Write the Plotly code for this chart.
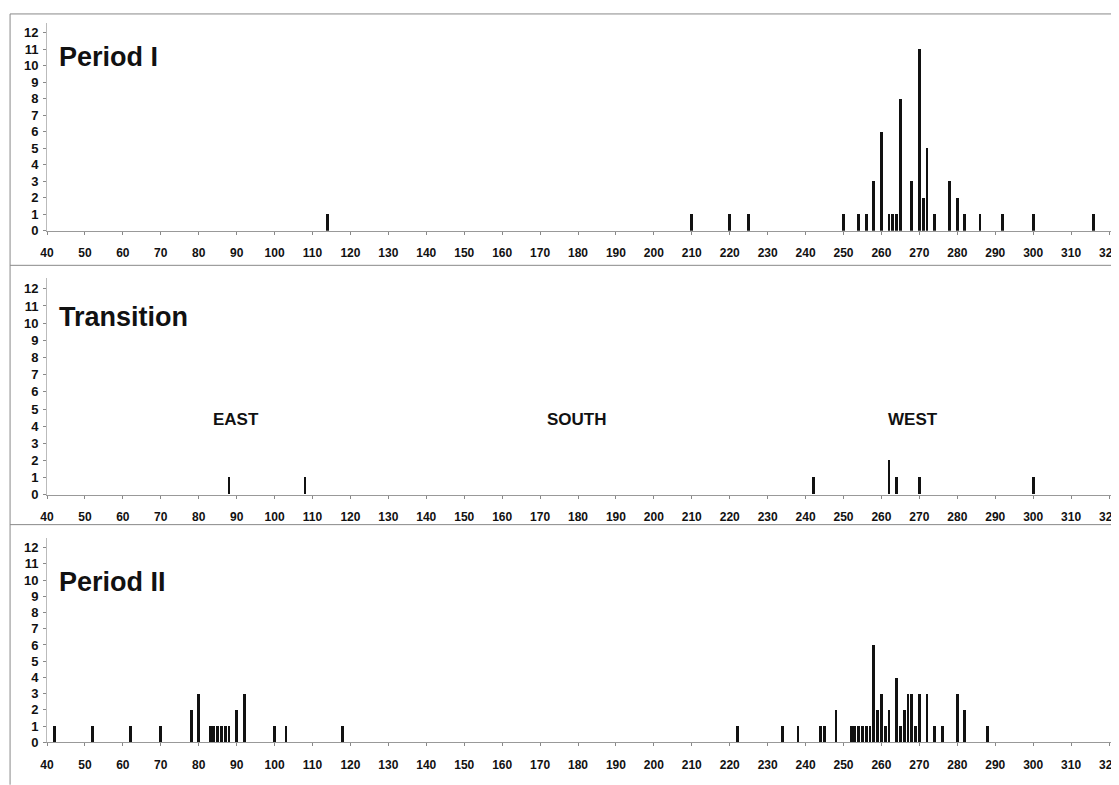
import plotly.graph_objects as go

# ---------------- data ----------------
p1_x = [114, 210, 220, 225, 250, 254, 256, 258, 260, 262, 263, 264, 265, 268, 270, 271, 272, 274, 278, 280, 282, 286, 292, 300, 316]
p1_y = [1, 1, 1, 1, 1, 1, 1, 3, 6, 1, 1, 1, 8, 3, 11, 2, 5, 1, 3, 2, 1, 1, 1, 1, 1]

tr_x = [88, 108, 242, 262, 264, 270, 300]
tr_y = [1, 1, 1, 2, 1, 1, 1]

p2_x = [42, 52, 62, 70, 78, 80, 83, 84, 85, 86, 87, 88, 90, 92, 100, 103, 118,
        222, 234, 238, 244, 245, 248, 252, 253, 254, 255, 256, 257, 258, 259, 260, 261, 262,
        264, 265, 266, 267, 268, 269, 270, 272, 274, 276, 280, 282, 288]
p2_y = [1, 1, 1, 1, 2, 3, 1, 1, 1, 1, 1, 1, 2, 3, 1, 1, 1,
        1, 1, 1, 1, 1, 2, 1, 1, 1, 1, 1, 1, 6, 2, 3, 1, 2,
        4, 1, 2, 3, 3, 1, 3, 3, 1, 1, 3, 2, 1]

x_ticks = list(range(40, 321, 10))
y_ticks = list(range(0, 13))
panel_titles = ["Period I", "Transition", "Period II"]
directions = ["EAST", "SOUTH", "WEST"]
direction_x = [89.7, 179.7, 268.4]

# ---------------- figure ----------------
OFF = 8                    # page body margin
W, H = 1119 - OFF, 785 - OFF
L = 47 - OFF

def py(p):                 # reference-pixel y -> paper
    return 1 - (p - OFF) / H

def px(p):                 # reference-pixel x -> paper
    return (p - OFF - L) / (W - L)

fig = go.Figure()
for i, (xs, ys) in enumerate([(p1_x, p1_y), (tr_x, tr_y), (p2_x, p2_y)]):
    sfx = "" if i == 0 else str(i + 1)
    fig.add_trace(go.Bar(x=xs, y=ys, width=0.75, marker=dict(color="#111111", line=dict(width=0)),
                         xaxis="x" + sfx, yaxis="y" + sfx, showlegend=False))

x_tick_font = dict(family="Liberation Sans, Arial", size=12, color="#111", weight="bold")
y_tick_font = dict(family="Liberation Sans, Arial", size=13, color="#111", weight="bold")

# (zero pixel in reference, pixels per unit)
panels = [(233, 16.67), (500, 17.36), (750, 16.4)]
ytop = 12.6
layout = dict(width=W, height=H, margin=dict(l=L, r=0, t=0, b=0),
              paper_bgcolor="white", plot_bgcolor="white", bargap=0)
for i, (z, u) in enumerate(panels):
    sfx = "" if i == 0 else str(i + 1)
    layout["xaxis" + sfx] = dict(range=[40, 40 + (W - L) / 3.8], domain=[0, 1], anchor="y" + sfx,
                                 tickmode="array", tickvals=x_ticks, ticks="outside", ticklen=3,
                                 tickcolor="#888", showline=True, linecolor="#999", linewidth=1,
                                 showgrid=False, zeroline=False, tickfont=x_tick_font,
                                 ticklabelstandoff=8, ticklabeloverflow="allow")
    layout["yaxis" + sfx] = dict(range=[0, ytop], domain=[py(z), py(z - ytop * u)], anchor="x" + sfx,
                                 tickmode="array", tickvals=y_ticks, ticks="outside", ticklen=3,
                                 tickcolor="#888", showline=True, linecolor="#bbb", linewidth=1,
                                 showgrid=False, zeroline=False, tickfont=y_tick_font,
                                 ticklabelstandoff=2)
fig.update_layout(**layout)

# panel frames
line_style = dict(color="#888", width=1)
for yy in [14, 268, 530]:
    fig.add_shape(type="line", xref="paper", yref="paper", x0=px(10), x1=1.01, y0=py(yy), y1=py(yy), line=line_style)
fig.add_shape(type="line", xref="paper", yref="paper", x0=px(10), x1=px(10), y0=py(14), y1=-0.01, line=line_style)

title_font = dict(family="Liberation Sans, Arial", size=27, color="#111", weight="bold")
for t, yy in zip(panel_titles, [57.5, 320, 588]):
    fig.add_annotation(text=t, xref="paper", yref="paper", x=px(57), y=py(yy), xanchor="left",
                       yanchor="middle", showarrow=False, font=title_font)

dir_font = dict(family="Liberation Sans, Arial", size=17, color="#111", weight="bold")
for d, dx in zip(directions, direction_x):
    fig.add_annotation(text=d, xref="x2", yref="y2", x=dx, y=4.4, xanchor="center", yanchor="middle",
                       showarrow=False, font=dir_font)

fig.write_html("out.html")
